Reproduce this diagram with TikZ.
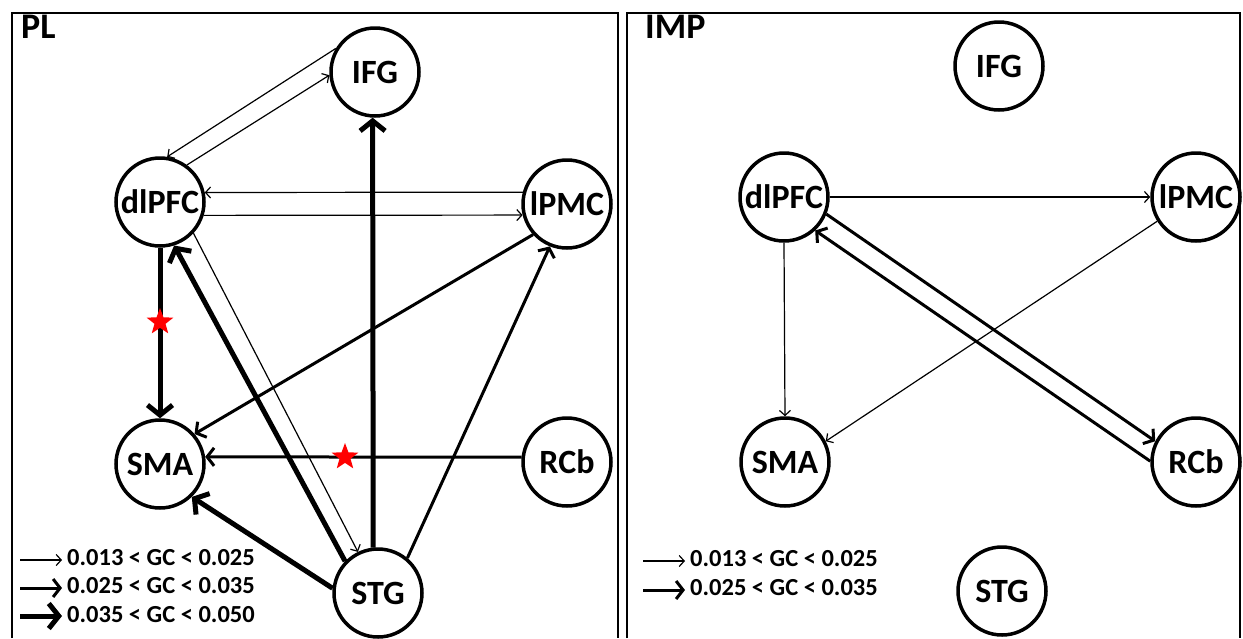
\documentclass[tikz,border=0pt]{standalone}
\usepackage{fontspec}
\setmainfont{Carlito}
\usetikzlibrary{arrows.meta,shapes.geometric}
\begin{document}
\begin{tikzpicture}[x=1pt,y=-1pt,
  region/.style={circle, draw, line width=3.5pt, minimum size=88pt, inner sep=0pt, font=\fontsize{34}{34}\selectfont\bfseries},
  thinarrow/.style={line width=1.2pt, -{Straight Barb[length=5pt,width=11pt]}},
  medarrow/.style={line width=3pt, -{Straight Barb[length=7pt,width=18pt]}},
  thickarrow/.style={line width=5pt, -{Straight Barb[length=10pt,width=25pt]}},
  panel/.style={line width=2pt},
  redstar/.style={star, star points=5, star point ratio=2.4, fill=red, draw=none, minimum size=28pt, inner sep=0pt},
  legendtext/.style={anchor=base west, inner sep=0pt, font=\fontsize{24.5}{24.5}\selectfont\bfseries},
  paneltitle/.style={anchor=base west, inner sep=0pt, font=\fontsize{36}{36}\selectfont\bfseries}
]
\useasboundingbox (0,0) rectangle (1243,638);
\fill[white] (0,0) rectangle (1243,638);
% panels
\draw[panel] (12,638) -- (12,13) -- (618,13) -- (618,638);
\draw[panel] (627,638) -- (627,13) -- (1240,13) -- (1240,638);
\node[paneltitle] (tpl) at (21,38) {PL};
\node[paneltitle] (timp) at (645,38) {IMP};

% ---------- PL panel ----------
\node[region] (IFG)   at (375,72)  {IFG};
\node[region] (dlPFC) at (160,202) {dlPFC};
\node[region] (lPMC)  at (567,204) {lPMC};
\node[region] (SMA)   at (160,464) {SMA};
\node[region] (RCb)   at (567,462) {RCb};
\node[region] (STG)   at (378,593) {STG};

\draw[thinarrow] (IFG.149) -- (dlPFC.81);
\draw[thinarrow] (dlPFC.54) -- (IFG.184);
\draw[thinarrow] (lPMC.165) -- (dlPFC.12);
\draw[thinarrow] (dlPFC.-17) -- (lPMC.194);
\draw[thinarrow] (dlPFC.-43) -- (STG.116);
\draw[thickarrow] (dlPFC.-90) -- (SMA.90);
\draw[thickarrow] (STG.96) -- (IFG.267.5);
\draw[thickarrow] (STG.136) -- (dlPFC.288);
\draw[medarrow] (lPMC.222) -- (SMA.41);
\draw[medarrow] (RCb.174) -- (SMA.9);
\draw[thickarrow] (STG.174) -- (SMA.314);
\draw[medarrow] (STG.50) -- (lPMC.248);

\node[redstar] (star1) at (160,322) {};
\node[redstar] (star2) at (345,457) {};

% legend PL
\coordinate (la1) at (20,560); \coordinate (lb1) at (62,560);
\coordinate (la2) at (20,588); \coordinate (lb2) at (62,588);
\coordinate (la3) at (20,616); \coordinate (lb3) at (62,616);
\draw[thinarrow] (la1) -- (lb1);
\draw[medarrow] (la2) -- (lb2);
\draw[thickarrow] (la3) -- (lb3);
\node[legendtext] (lt1) at (67,565) {0.013 < GC < 0.025};
\node[legendtext] (lt2) at (67,593) {0.025 < GC < 0.035};
\node[legendtext] (lt3) at (67,622) {0.035 < GC < 0.050};

% ---------- IMP panel ----------
\node[region] (IFGr)   at (999,66)   {IFG};
\node[region] (dlPFCr) at (784,197)  {dlPFC};
\node[region] (lPMCr)  at (1196,197) {lPMC};
\node[region] (SMAr)   at (785,462)  {SMA};
\node[region] (RCbr)   at (1196,462) {RCb};
\node[region] (STGr)   at (1002,591) {STG};

\draw[thinarrow] (dlPFCr.0) -- (lPMCr.180);
\draw[thinarrow] (dlPFCr.270) -- (SMAr.90);
\draw[thinarrow] (lPMCr.212) -- (SMAr.27);
\draw[medarrow] (dlPFCr.338) -- (RCbr.153);
\draw[medarrow] (RCbr.179) -- (dlPFCr.313);

% legend IMP
\coordinate (ra1) at (643,561); \coordinate (rb1) at (685,561);
\coordinate (ra2) at (643,590); \coordinate (rb2) at (685,590);
\draw[thinarrow] (ra1) -- (rb1);
\draw[medarrow] (ra2) -- (rb2);
\node[legendtext] (rt1) at (690,566) {0.013 < GC < 0.025};
\node[legendtext] (rt2) at (690,595) {0.025 < GC < 0.035};
\end{tikzpicture}
\end{document}
